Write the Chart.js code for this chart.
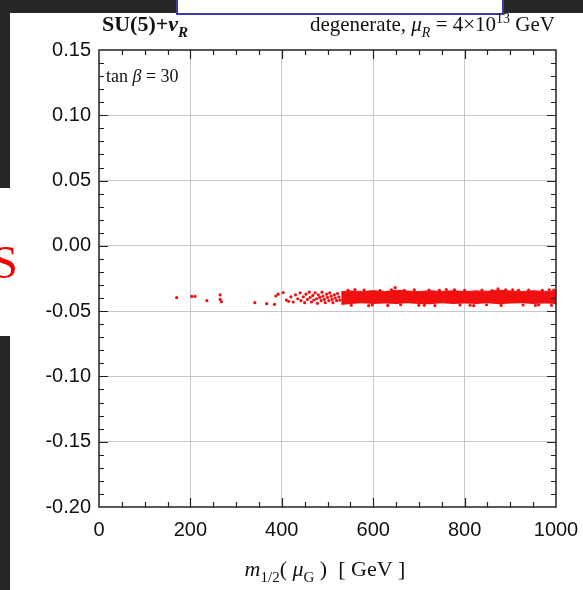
<!DOCTYPE html>
<html>
<head>
<meta charset="utf-8">
<script src="https://cdn.jsdelivr.net/npm/chart.js@4.4.0/dist/chart.umd.min.js"></script>
<style>
  body { margin: 0; background: #fff; }
  #wrap { width: 583px; height: 590px; position: relative; }
</style>
</head>
<body>
<div id="wrap"><canvas id="c"></canvas></div>
<script>
// axis ranges / ticks
var xMin = 0, xMax = 1000, xStep = 200;
var yMin = -0.20, yMax = 0.15, yStep = 0.05;

// dense band above ~530 GeV: upper and lower edge
var bandX      = [530, 550, 575, 600, 625, 650, 675, 700, 725, 750, 775, 800, 825, 850, 875, 900, 925, 950, 975, 1000];
var bandTop    = [-0.0352, -0.0345, -0.0350, -0.0343, -0.0350, -0.0340, -0.0346, -0.0350, -0.0344, -0.0349, -0.0344, -0.0350, -0.0345, -0.0348, -0.0340, -0.0345, -0.0350, -0.0344, -0.0349, -0.0345];
var bandBottom = [-0.0452, -0.0446, -0.0440, -0.0446, -0.0441, -0.0446, -0.0440, -0.0445, -0.0447, -0.0440, -0.0446, -0.0441, -0.0446, -0.0440, -0.0447, -0.0441, -0.0440, -0.0446, -0.0441, -0.0445];

// scattered points (low m_1/2 and edges of the band)
var ptX = [170, 203, 210, 236, 265, 265, 268, 341, 367, 384, 387, 392, 403,
           410, 415, 420, 425, 430, 435, 440, 442, 447, 450, 453, 456, 460, 462, 465, 468, 470, 473, 476, 478,
           480, 483, 486, 488, 490, 493, 495, 498, 500, 503, 505, 508, 510, 512, 515, 517, 520, 522, 525, 527,
           648, 873, 560, 590, 700, 760, 820, 905, 955, 985,
           545, 580, 615, 640, 668, 690, 722, 745, 778, 800, 838, 860, 890, 918, 940, 970, 995,
           552, 598, 632, 660, 712, 735, 790, 812, 848, 880, 928, 962, 990];
var ptY = [-0.0397, -0.0387, -0.0387, -0.0420, -0.0376, -0.0410, -0.0428, -0.0435, -0.0443, -0.0448, -0.0384, -0.0370, -0.0358,
           -0.0415, -0.0425, -0.0390, -0.0430, -0.0375, -0.0405, -0.0360, -0.0420, -0.0390, -0.0435, -0.0370, -0.0410, -0.0355, -0.0395, -0.0430, -0.0380, -0.0415, -0.0360, -0.0405, -0.0440,
           -0.0375, -0.0395, -0.0420, -0.0355, -0.0385, -0.0410, -0.0435, -0.0370, -0.0395, -0.0420, -0.0360, -0.0385, -0.0410, -0.0435, -0.0375, -0.0400, -0.0420, -0.0365, -0.0390, -0.0415,
           -0.0320, -0.0330, -0.0335, -0.0458, -0.0455, -0.0335, -0.0458, -0.0336, -0.0456, -0.0337,
           -0.0340, -0.0338, -0.0342, -0.0336, -0.0341, -0.0337, -0.0339, -0.0341, -0.0336, -0.0340, -0.0338, -0.0342, -0.0337, -0.0340, -0.0338, -0.0341, -0.0339,
           -0.0455, -0.0452, -0.0456, -0.0451, -0.0454, -0.0457, -0.0452, -0.0455, -0.0451, -0.0456, -0.0453, -0.0451, -0.0455];

function pairs(xs, ys) {
  return xs.map(function (x, i) { return { x: x, y: ys[i] }; });
}

var RED = 'rgb(240,16,16)';

// draws runs of text with different fonts along one baseline
function runs(ctx, x, y, parts, align) {
  var w = 0;
  parts.forEach(function (p) { ctx.font = p.f; w += ctx.measureText(p.t).width; });
  if (align === 'right') x -= w;
  if (align === 'center') x -= w / 2;
  parts.forEach(function (p) {
    ctx.font = p.f;
    ctx.fillText(p.t, x, y + (p.dy || 0));
    x += ctx.measureText(p.t).width;
  });
}

var decor = {
  id: 'decor',
  beforeDraw: function (chart) {
    var ctx = chart.ctx;
    ctx.save();
    // slide background pieces
    ctx.fillStyle = '#262626';
    ctx.fillRect(0, 0, 583, 13);
    ctx.fillRect(0, 0, 10, 188);
    ctx.fillRect(0, 336, 10, 254);
    ctx.fillStyle = '#fff';
    ctx.fillRect(177, 0, 326, 14);
    ctx.strokeStyle = '#3a3aa8';
    ctx.lineWidth = 2;
    ctx.strokeRect(177, -2, 326, 16);
    ctx.fillStyle = '#ee0000';
    ctx.font = '47px "Liberation Serif"';
    ctx.textBaseline = 'alphabetic';
    ctx.textAlign = 'right';
    ctx.fillText('S', 18, 278);
    ctx.restore();
  },
  afterDraw: function (chart) {
    var ctx = chart.ctx, a = chart.chartArea;
    var xs = chart.scales.x, ys = chart.scales.y;
    ctx.save();
    ctx.strokeStyle = '#222';
    ctx.lineWidth = 1.2;
    ctx.beginPath();
    // inner ticks on all four sides
    for (var i = 1; i < 20; i++) {
      var px = Math.round(xs.getPixelForValue(i * 50)) + 0.5;
      var len = i % 4 === 0 ? 9 : 5;
      ctx.moveTo(px, a.bottom); ctx.lineTo(px, a.bottom - len);
      ctx.moveTo(px, a.top); ctx.lineTo(px, a.top + len);
    }
    for (var j = -19; j < 15; j++) {
      var py = Math.round(ys.getPixelForValue(j / 100)) + 0.5;
      var l2 = j % 5 === 0 ? 9 : 5;
      ctx.moveTo(a.left, py); ctx.lineTo(a.left + l2, py);
      ctx.moveTo(a.right, py); ctx.lineTo(a.right - l2, py);
    }
    ctx.stroke();
    ctx.lineWidth = 1.5;
    ctx.strokeRect(a.left, a.top, a.right - a.left, a.bottom - a.top);

    ctx.fillStyle = '#111';
    ctx.textBaseline = 'alphabetic';
    ctx.textAlign = 'left';
    var S = '"Liberation Serif"';
    runs(ctx, 102, 31, [
      { t: 'SU(5)+', f: 'bold 22px ' + S },
      { t: '\u03bd', f: 'italic bold 22px ' + S },
      { t: 'R', f: 'italic bold 15px ' + S, dy: 6 }
    ]);
    runs(ctx, 555, 31, [
      { t: 'degenerate, ', f: '21px ' + S },
      { t: '\u03bc', f: 'italic 21px ' + S },
      { t: 'R', f: 'italic 14px ' + S, dy: 6 },
      { t: ' = 4\u00d710', f: '21px ' + S },
      { t: '13', f: '14px ' + S, dy: -8 },
      { t: ' GeV', f: '21px ' + S }
    ], 'right');
    runs(ctx, 106, 82, [
      { t: 'tan ', f: '18px ' + S },
      { t: '\u03b2', f: 'italic 18px ' + S },
      { t: ' = 30', f: '18px ' + S }
    ]);
    runs(ctx, 325, 576, [
      { t: 'm', f: 'italic 22px ' + S },
      { t: '1/2', f: '15px ' + S, dy: 6 },
      { t: '( ', f: '22px ' + S },
      { t: '\u03bc', f: 'italic 22px ' + S },
      { t: 'G', f: '15px ' + S, dy: 6 },
      { t: ' )  [ GeV ]', f: '22px ' + S }
    ], 'center');
    ctx.restore();
  }
};

var gridColor = function (c) {
  var v = c.tick && c.tick.value;
  var s = c.scale;
  if (Math.abs(v - s.min) < 1e-9 || Math.abs(v - s.max) < 1e-9) return 'rgba(0,0,0,0)';
  return '#c8c8c8';
};

new Chart(document.getElementById('c'), {
  type: 'scatter',
  data: {
    datasets: [
      {
        data: pairs(bandX, bandBottom),
        showLine: true, pointRadius: 0, borderWidth: 0, borderColor: RED, fill: false
      },
      {
        data: pairs(bandX, bandTop),
        showLine: true, pointRadius: 0, borderWidth: 1, borderColor: RED,
        backgroundColor: RED, fill: '-1'
      },
      {
        data: pairs(ptX, ptY),
        pointRadius: 1.6, pointBorderWidth: 0, backgroundColor: RED, borderColor: RED
      }
    ]
  },
  options: {
    responsive: true,
    maintainAspectRatio: false,
    animation: false,
    devicePixelRatio: 1,
    layout: { padding: { left: 0, top: 50, right: 27, bottom: 0 } },
    plugins: { legend: { display: false }, tooltip: { enabled: false } },
    scales: {
      x: {
        type: 'linear', min: xMin, max: xMax,
        afterFit: function (s) { s.height = 83; s.paddingLeft = 0; s.paddingRight = 0; },
        border: { display: false },
        grid: { color: gridColor, lineWidth: 1, drawTicks: false },
        ticks: {
          stepSize: xStep, padding: 11, color: '#111', maxRotation: 0,
          font: { family: '"Liberation Sans"', size: 20 },
          callback: function (v) { return String(Math.round(v)); }
        }
      },
      y: {
        type: 'linear', min: yMin, max: yMax,
        afterFit: function (s) { s.width = 99; s.paddingTop = 0; s.paddingBottom = 0; },
        border: { display: false },
        grid: { color: gridColor, lineWidth: 1, drawTicks: false },
        ticks: {
          stepSize: yStep, padding: 8, color: '#111',
          font: { family: '"Liberation Sans"', size: 20 },
          callback: function (v) { return Math.abs(v) < 1e-9 ? '0.00' : v.toFixed(2); }
        }
      }
    }
  },
  plugins: [decor]
});
</script>
</body>
</html>
